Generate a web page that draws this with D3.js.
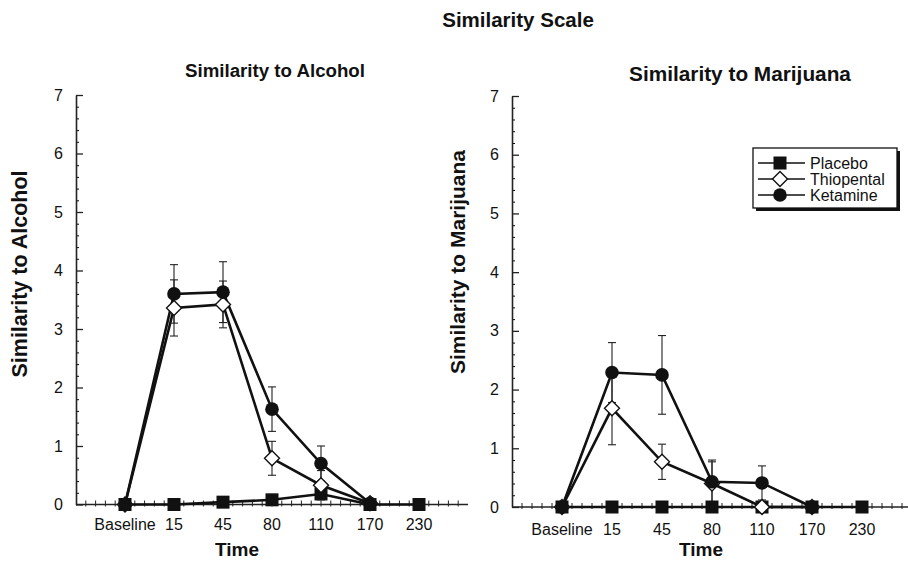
<!DOCTYPE html>
<html>
<head>
<meta charset="utf-8">
<script src="https://cdn.jsdelivr.net/npm/d3@7"></script>
<style>
  body { margin: 0; background: #fff; }
  svg text { font-family: "Liberation Sans", Arial, sans-serif; fill: #111; }
</style>
</head>
<body>
<div id="chart"></div>
<script>
// time points (x categories)
const timeLabels = ["Baseline", "15", "45", "80", "110", "170", "230"];
const seriesNames = ["Placebo", "Thiopental", "Ketamine"];
const yTicks = [0, 1, 2, 3, 4, 5, 6, 7];

// Similarity to Alcohol: means and error bars
const alcoholPlacebo = [0, 0, 0.04, 0.08, 0.18, 0, 0];
const alcoholPlaceboErr = [0, 0, 0.03, 0.05, 0.08, 0, 0];
const alcoholThiopental = [0, 3.36, 3.42, 0.79, 0.33, 0.02, null];
const alcoholThiopentalErr = [0, 0.48, 0.4, 0.29, 0.25, 0.05, null];
const alcoholKetamine = [0, 3.6, 3.63, 1.63, 0.7, 0.02, null];
const alcoholKetamineErr = [0, 0.5, 0.52, 0.38, 0.3, 0.05, null];

// Similarity to Marijuana: means and error bars
const marijuanaPlacebo = [0, 0, 0, 0, 0, 0, 0];
const marijuanaPlaceboErr = [0, 0, 0, 0, 0, 0, 0];
const marijuanaThiopental = [0, 1.68, 0.77, 0.4, 0, 0, null];
const marijuanaThiopentalErr = [0, 0.62, 0.3, 0.37, 0, 0, null];
const marijuanaKetamine = [0, 2.29, 2.25, 0.43, 0.41, 0, null];
const marijuanaKetamineErr = [0, 0.51, 0.67, 0.37, 0.29, 0, null];

var W = 908, H = 564;

var svg = d3.select("#chart")
  .append("svg")
  .attr("width", W)
  .attr("height", H);

svg.append("text")
  .attr("x", 518).attr("y", 27)
  .attr("text-anchor", "middle")
  .style("font-weight", "bold")
  .style("font-size", "20.5px")
  .text("Similarity Scale");

var panels = [
  {
    title: "Similarity to Alcohol", ylabel: "Similarity to Alcohol",
    titleSize: 18.7, ylabSize: 21.5,
    xr: [76, 468], xd: [-1, 7], yr: [504.5, 95], titleX: 275, titleY: 77,
    ylabX: 27, ylabY: 274, timeX: 237, timeY: 556, labY: 530,
    means: [alcoholPlacebo, alcoholThiopental, alcoholKetamine],
    errs: [alcoholPlaceboErr, alcoholThiopentalErr, alcoholKetamineErr]
  },
  {
    title: "Similarity to Marijuana", ylabel: "Similarity to Marijuana",
    titleSize: 20.8, ylabSize: 21,
    xr: [512, 908], xd: [-1, 6.92], yr: [507, 96], titleX: 740, titleY: 81,
    ylabX: 465, ylabY: 262, timeX: 701, timeY: 556, labY: 535,
    means: [marijuanaPlacebo, marijuanaThiopental, marijuanaKetamine],
    errs: [marijuanaPlaceboErr, marijuanaThiopentalErr, marijuanaKetamineErr]
  }
];

panels.forEach(function (p) {
  var x = d3.scaleLinear().domain(p.xd).range(p.xr);
  var y = d3.scaleLinear().domain([0, 7]).range(p.yr);
  var g = svg.append("g");

  g.append("text")
    .attr("x", p.titleX).attr("y", p.titleY)
    .attr("text-anchor", "middle")
    .style("font-weight", "bold")
    .style("font-size", p.titleSize + "px")
    .text(p.title);

  // y axis: major ticks inward, minor dots
  var minor = d3.range(0, 7.001, 0.2).filter(function (v) { return Math.abs(v - Math.round(v)) > 0.01; });
  g.append("g")
    .attr("transform", "translate(" + p.xr[0] + ",0)")
    .call(d3.axisLeft(y).tickValues(minor).tickSize(-3).tickFormat(""))
    .call(function (a) { a.select(".domain").remove(); });
  var ya = g.append("g")
    .attr("transform", "translate(" + p.xr[0] + ",0)")
    .call(d3.axisLeft(y).tickValues(yTicks).tickFormat(d3.format("d"))
      .tickSize(-7).tickPadding(13).tickSizeOuter(0));
  ya.selectAll("line").attr("stroke", "#222").attr("stroke-width", 1.3);
  ya.select(".domain").attr("stroke", "#222").attr("stroke-width", 1.6);
  ya.selectAll("text").style("font-size", "16px").style("font-family", "Liberation Sans, Arial, sans-serif");

  g.append("text")
    .attr("transform", "translate(" + p.ylabX + "," + p.ylabY + ") rotate(-90)")
    .attr("text-anchor", "middle")
    .style("font-weight", "bold")
    .style("font-size", p.ylabSize + "px")
    .text(p.ylabel);

  // x axis
  var y0 = y(0);
  g.append("line")
    .attr("x1", p.xr[0]).attr("x2", p.xr[1])
    .attr("y1", y0).attr("y2", y0)
    .attr("stroke", "#222").attr("stroke-width", 1.6);
  var xt = d3.range(p.xd[0] + 0.2, p.xd[1], 0.2);
  g.selectAll(".xtick")
    .data(xt)
    .enter()
    .append("line")
    .attr("x1", function (d) { return x(d); })
    .attr("x2", function (d) { return x(d); })
    .attr("y1", y0 - 4).attr("y2", y0 + 2)
    .attr("stroke", "#222").attr("stroke-width", 1);
  g.selectAll(".xlab")
    .data(timeLabels)
    .enter()
    .append("text")
    .attr("x", function (d, i) { return x(i); })
    .attr("y", p.labY)
    .attr("text-anchor", "middle")
    .style("font-size", "16px")
    .text(function (d) { return d; });

  g.append("text")
    .attr("x", p.timeX).attr("y", p.timeY)
    .attr("text-anchor", "middle")
    .style("font-weight", "bold")
    .style("font-size", "19px")
    .text("Time");

  var line = d3.line()
    .defined(function (d) { return d != null; })
    .x(function (d, i) { return x(i); })
    .y(function (d) { return y(d); });

  p.means.forEach(function (m, s) {
    var e = p.errs[s];
    // error bars
    var eg = g.append("g");
    m.forEach(function (v, i) {
      if (v == null || !e[i]) return;
      var cx = x(i);
      eg.append("line").attr("x1", cx).attr("x2", cx)
        .attr("y1", y(v - e[i])).attr("y2", y(v + e[i]))
        .attr("stroke", "#222").attr("stroke-width", 1.1);
      [v - e[i], v + e[i]].forEach(function (t) {
        eg.append("line").attr("x1", cx - 4).attr("x2", cx + 4)
          .attr("y1", y(t)).attr("y2", y(t))
          .attr("stroke", "#222").attr("stroke-width", 1.1);
      });
    });
    g.append("path")
      .datum(m)
      .attr("d", line)
      .attr("fill", "none")
      .attr("stroke", "#111")
      .attr("stroke-width", 2.6);
  });

  p.means.forEach(function (m, s) {
    m.forEach(function (v, i) {
      if (v == null) return;
      drawMarker(g, s, x(i), y(v));
    });
  });
});

function drawMarker(g, s, cx, cy) {
  if (s === 0) {
    g.append("rect").attr("x", cx - 6.5).attr("y", cy - 6.5)
      .attr("width", 13).attr("height", 13).attr("fill", "#111");
  } else if (s === 1) {
    g.append("path")
      .attr("d", "M" + cx + "," + (cy - 7.5) + "L" + (cx + 7.5) + "," + cy + "L" + cx + "," + (cy + 7.5) + "L" + (cx - 7.5) + "," + cy + "Z")
      .attr("fill", "#fff").attr("stroke", "#111").attr("stroke-width", 1.4);
  } else {
    g.append("circle").attr("cx", cx).attr("cy", cy).attr("r", 6.8).attr("fill", "#111");
  }
}

// legend
var lg = svg.append("g");
lg.append("rect").attr("x", 756).attr("y", 151).attr("width", 144).attr("height", 60).attr("fill", "#111");
lg.append("rect").attr("x", 753).attr("y", 148).attr("width", 144).attr("height", 60)
  .attr("fill", "#fff").attr("stroke", "#111").attr("stroke-width", 1.3);
seriesNames.forEach(function (name, i) {
  var ly = 163 + i * 16;
  lg.append("line").attr("x1", 758).attr("x2", 805).attr("y1", ly).attr("y2", ly)
    .attr("stroke", "#111").attr("stroke-width", 1.5);
  drawMarker(lg, i, 780, ly);
  lg.append("text").attr("x", 810).attr("y", ly + 5.5)
    .style("font-size", "16px")
    .text(name);
});
</script>
</body>
</html>
